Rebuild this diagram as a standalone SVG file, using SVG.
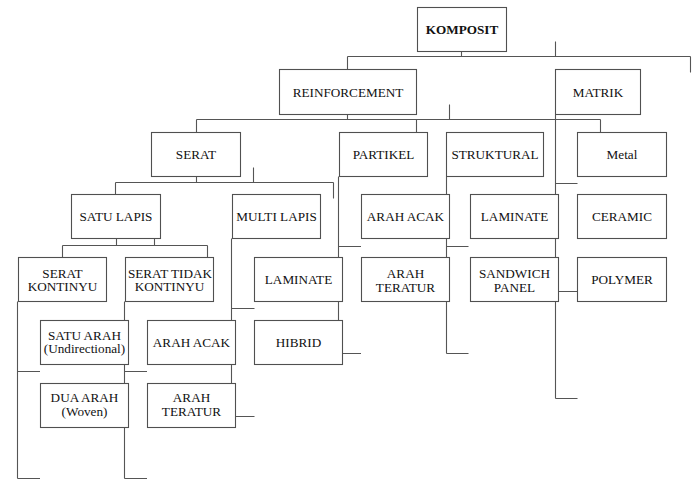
<svg xmlns="http://www.w3.org/2000/svg" width="699" height="479" viewBox="0 0 699 479">
<style>
.b{fill:#fff;stroke:#505050;stroke-width:1.1}
.t{font-family:'Liberation Serif','Tinos','DejaVu Serif',serif;font-size:13.2px;fill:#111;text-anchor:middle}
.k{font-weight:bold}
#connectors path{fill:none;stroke:#555;stroke-width:1.1}
</style>
<rect width="699" height="479" fill="#fff"/>
<g id="connectors">
<path d="M461.5 51.5V56.5M347.5 56.5H690.5M555.5 41.5V56.5M347.5 56.5V69.5M690.5 56.5V72.5"/>
<path d="M347.5 114.5V119.5M196.5 119.5H600.5M449.5 104.5V119.5M416.5 119.5V132.5M600.5 119.5V132.5M196.5 119.5V132.5"/>
<path d="M555.5 114.5V398.5M555.5 183.5H577.5M555.5 291.5H577.5M555.5 398.5H577.5"/>
<path d="M196.5 176.5V182.5M115.5 182.5H333.5M253.5 167.5V182.5M333.5 182.5V198.5M115.5 182.5V194.5"/>
<path d="M338.5 176.5V353.5M338.5 246.5H361M338.5 353.5H361"/>
<path d="M446.5 176.5V353.5M446.5 246.5H468.5M446.5 353.5H468.5"/>
<path d="M116.5 238.5V245.5M154.5 238.5V245.5M62.5 245.5H207.5M62.5 245.5V257.5M207.5 245.5V257.5"/>
<path d="M231.5 238.5V416.5M231.5 308.5H254.5M231.5 416.5H254.5"/>
<path d="M17.5 301.5V478.5M17.5 371.5H40M17.5 478.5H40"/>
<path d="M124.5 301.5V478.5M124.5 371.5H147M124.5 478.5H147"/>
</g>
<g id="komposit"><rect class="b" x="417.5" y="7.5" width="89" height="44"/><text class="t k" x="462" y="33.5">KOMPOSIT</text></g>
<g id="reinforcement"><rect class="b" x="279.5" y="69.5" width="137" height="45"/><text class="t" x="348" y="96.7">REINFORCEMENT</text></g>
<g id="matrik"><rect class="b" x="555.5" y="69.5" width="85" height="45"/><text class="t" x="598" y="96.7">MATRIK</text></g>
<g id="serat"><rect class="b" x="151.5" y="132.5" width="89" height="44"/><text class="t" x="196" y="158.7">SERAT</text></g>
<g id="partikel"><rect class="b" x="339.5" y="132.5" width="88" height="44"/><text class="t" x="383.5" y="158.7">PARTIKEL</text></g>
<g id="struktural"><rect class="b" x="446.5" y="132.5" width="97" height="44"/><text class="t" x="495" y="158.7">STRUKTURAL</text></g>
<g id="metal"><rect class="b" x="577.5" y="132.5" width="89" height="44"/><text class="t" x="622" y="158.7">Metal</text></g>
<g id="satu-lapis"><rect class="b" x="71.5" y="194.5" width="89" height="44"/><text class="t" x="116" y="221">SATU LAPIS</text></g>
<g id="multi-lapis"><rect class="b" x="232.5" y="194.5" width="88" height="44"/><text class="t" x="276.5" y="221">MULTI LAPIS</text></g>
<g id="arah-acak-p"><rect class="b" x="361.5" y="194.5" width="88" height="44"/><text class="t" x="405.5" y="221">ARAH ACAK</text></g>
<g id="laminate-s"><rect class="b" x="470.5" y="194.5" width="88" height="44"/><text class="t" x="514.5" y="221">LAMINATE</text></g>
<g id="ceramic"><rect class="b" x="577.5" y="194.5" width="89" height="44"/><text class="t" x="622" y="221">CERAMIC</text></g>
<g id="serat-kontinyu"><rect class="b" x="18.5" y="257.5" width="88" height="44"/><text class="t" x="62.5" y="277.7">SERAT</text><text class="t" x="62.5" y="291.2">KONTINYU</text></g>
<g id="serat-tidak-kontinyu"><rect class="b" x="125.5" y="257.5" width="88" height="44"/><text class="t" x="170" y="277.7">SERAT TIDAK</text><text class="t" x="169.5" y="291.2">KONTINYU</text></g>
<g id="laminate-m"><rect class="b" x="254.5" y="257.5" width="88" height="44"/><text class="t" x="298.5" y="284">LAMINATE</text></g>
<g id="arah-teratur-p"><rect class="b" x="361.5" y="257.5" width="88" height="44"/><text class="t" x="405.5" y="277.5">ARAH</text><text class="t" x="405.5" y="291.5">TERATUR</text></g>
<g id="sandwich-panel"><rect class="b" x="470.5" y="257.5" width="88" height="44"/><text class="t" x="514.5" y="277.5">SANDWICH</text><text class="t" x="514.5" y="291.5">PANEL</text></g>
<g id="polymer"><rect class="b" x="577.5" y="257.5" width="89" height="44"/><text class="t" x="622" y="284">POLYMER</text></g>
<g id="satu-arah"><rect class="b" x="40.5" y="320.5" width="88" height="44"/><text class="t" x="84.5" y="339.5">SATU ARAH</text><text class="t" x="84.5" y="353">(Undirectional)</text></g>
<g id="arah-acak-s"><rect class="b" x="147.5" y="320.5" width="88" height="44"/><text class="t" x="191.5" y="346.5">ARAH ACAK</text></g>
<g id="hibrid"><rect class="b" x="254.5" y="320.5" width="88" height="44"/><text class="t" x="298.5" y="346.5">HIBRID</text></g>
<g id="dua-arah"><rect class="b" x="40.5" y="383.5" width="88" height="44"/><text class="t" x="84.5" y="402.2">DUA ARAH</text><text class="t" x="84.5" y="415.7">(Woven)</text></g>
<g id="arah-teratur-s"><rect class="b" x="147.5" y="383.5" width="88" height="44"/><text class="t" x="191.5" y="401.7">ARAH</text><text class="t" x="191.5" y="416">TERATUR</text></g>
</svg>
